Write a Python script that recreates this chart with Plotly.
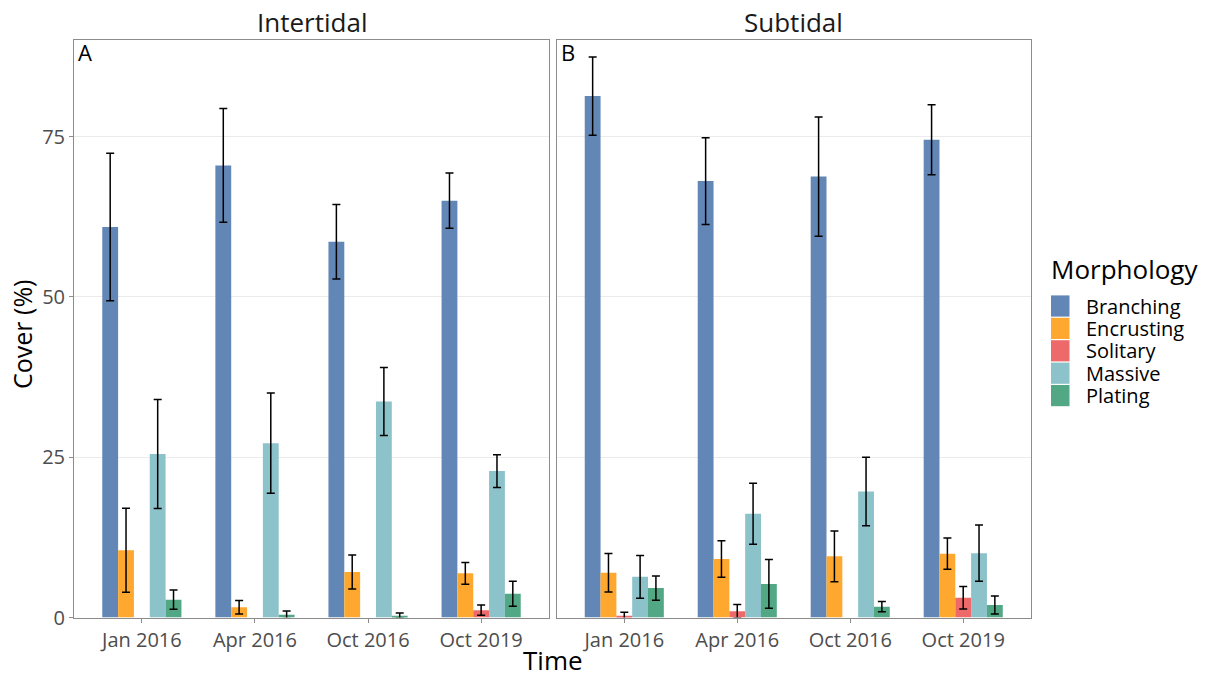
import plotly.graph_objects as go

# ---------------- data ----------------
CATEGORIES = ["Jan 2016", "Apr 2016", "Oct 2016", "Oct 2019"]
MORPHOLOGY = ["Branching", "Encrusting", "Solitary", "Massive", "Plating"]
COLORS = ["#6286B5", "#FFA830", "#EE6A6A", "#8CC2CA", "#52A884"]

# Intertidal (panel A): mean cover and standard error
INTER_BRANCHING = [60.9, 70.5, 58.6, 65.0]
INTER_BRANCHING_SE = [11.5, 8.85, 5.8, 4.3]
INTER_ENCRUSTING = [10.5, 1.6, 7.1, 6.9]
INTER_ENCRUSTING_SE = [6.55, 1.05, 2.65, 1.7]
INTER_SOLITARY = [None, None, None, 1.15]
INTER_SOLITARY_SE = [None, None, None, 0.8]
INTER_MASSIVE = [25.5, 27.2, 33.7, 22.85]
INTER_MASSIVE_SE = [8.5, 7.8, 5.3, 2.55]
INTER_PLATING = [2.8, 0.45, 0.3, 3.7]
INTER_PLATING_SE = [1.5, 0.58, 0.42, 1.95]

# Subtidal (panel B)
SUB_BRANCHING = [81.3, 68.05, 68.75, 74.5]
SUB_BRANCHING_SE = [6.1, 6.75, 9.3, 5.46]
SUB_ENCRUSTING = [7.0, 9.15, 9.55, 9.97]
SUB_ENCRUSTING_SE = [3.0, 2.85, 3.95, 2.45]
SUB_SOLITARY = [0.3, 1.0, None, 3.1]
SUB_SOLITARY_SE = [0.53, 1.05, None, 1.75]
SUB_MASSIVE = [6.35, 16.2, 19.65, 10.05]
SUB_MASSIVE_SE = [3.35, 4.75, 5.35, 4.4]
SUB_PLATING = [4.6, 5.25, 1.7, 1.95]
SUB_PLATING_SE = [1.9, 3.8, 0.8, 1.4]

Y_TICKS = [0, 25, 50, 75]

INTER = [
    (INTER_BRANCHING, INTER_BRANCHING_SE),
    (INTER_ENCRUSTING, INTER_ENCRUSTING_SE),
    (INTER_SOLITARY, INTER_SOLITARY_SE),
    (INTER_MASSIVE, INTER_MASSIVE_SE),
    (INTER_PLATING, INTER_PLATING_SE),
]
SUB = [
    (SUB_BRANCHING, SUB_BRANCHING_SE),
    (SUB_ENCRUSTING, SUB_ENCRUSTING_SE),
    (SUB_SOLITARY, SUB_SOLITARY_SE),
    (SUB_MASSIVE, SUB_MASSIVE_SE),
    (SUB_PLATING, SUB_PLATING_SE),
]

# ---------------- figure ----------------
W, H = 1210, 679
FONT = "Open Sans"
fig = go.Figure()

for panel, (xa, ya) in zip([INTER, SUB], [("x", "y"), ("x2", "y2")]):
    for name, color, (vals, se) in zip(MORPHOLOGY, COLORS, panel):
        fig.add_trace(go.Bar(
            x=CATEGORIES, y=vals, name=name, xaxis=xa, yaxis=ya,
            marker=dict(color=color, line=dict(width=0)),
            showlegend=False,
            error_y=dict(type="data", array=se, visible=True,
                         color="black", thickness=1.5, width=4),
        ))

def px_x(p):
    return p / W

def px_y(p):
    return (H - p) / H

LEFT_DOM = [px_x(74), px_x(549)]
RIGHT_DOM = [px_x(556.5), px_x(1031)]
Y_DOM = [px_y(617.6), px_y(40.3)]

axis_line = "#8c8c8c"
tick_font = dict(family=FONT, size=20, color="#4d4d4d")

common_x = dict(type="category", range=[-0.6, 3.6], showgrid=False,
                showline=True, mirror=True, linecolor=axis_line, linewidth=1,
                ticks="outside", ticklen=4, tickcolor=axis_line,
                tickfont=tick_font, zeroline=False, fixedrange=True)
common_y = dict(range=[0, 90.0], tickvals=Y_TICKS, showgrid=True,
                gridcolor="#ebebeb", gridwidth=1, zeroline=False,
                showline=True, mirror=True, linecolor=axis_line, linewidth=1,
                tickfont=tick_font, fixedrange=True)

fig.update_layout(
    width=W, height=H,
    margin=dict(l=0, r=0, t=0, b=0, autoexpand=False),
    paper_bgcolor="white", plot_bgcolor="white",
    barmode="group", bargap=0.3, bargroupgap=0,
    font=dict(family=FONT, color="black"),
    xaxis=dict(domain=LEFT_DOM, anchor="y", **common_x),
    xaxis2=dict(domain=RIGHT_DOM, anchor="y2", **common_x),
    yaxis=dict(domain=Y_DOM, anchor="x", ticks="outside", ticklen=4,
               tickcolor=axis_line, **common_y),
    yaxis2=dict(domain=Y_DOM, anchor="x2", ticks="", showticklabels=False,
                **common_y),
)

annotations = []
# strip titles
for text, dom in [("Intertidal", LEFT_DOM), ("Subtidal", RIGHT_DOM)]:
    annotations.append(dict(text=text, x=(dom[0] + dom[1]) / 2, y=px_y(22),
                            xref="paper", yref="paper", showarrow=False,
                            xanchor="center", yanchor="middle",
                            font=dict(family=FONT, size=26, color="#1a1a1a")))
# panel letters
for text, dom in [("A", LEFT_DOM), ("B", RIGHT_DOM)]:
    annotations.append(dict(text=text, x=dom[0] + 2 / W, y=px_y(52),
                            xref="paper", yref="paper", showarrow=False,
                            xanchor="left", yanchor="middle",
                            font=dict(family=FONT, size=22, color="black")))
# axis titles
annotations.append(dict(text="Time", x=(LEFT_DOM[0] + RIGHT_DOM[1]) / 2,
                        y=px_y(660), xref="paper", yref="paper",
                        showarrow=False, xanchor="center", yanchor="middle",
                        font=dict(family=FONT, size=26, color="black")))
annotations.append(dict(text="Cover (%)", x=px_x(22), y=px_y(335),
                        xref="paper", yref="paper", showarrow=False,
                        textangle=-90, xanchor="center", yanchor="middle",
                        font=dict(family=FONT, size=25, color="black")))

# legend (drawn manually to match the large square keys)
annotations.append(dict(text="Morphology", x=px_x(1049), y=px_y(269),
                        xref="paper", yref="paper", showarrow=False,
                        xanchor="left", yanchor="middle",
                        font=dict(family=FONT, size=26, color="black")))
shapes = []
KEY_TOP = 295
KEY_STEP = 22.4
for i, (name, color) in enumerate(zip(MORPHOLOGY, COLORS)):
    top = KEY_TOP + i * KEY_STEP
    shapes.append(dict(type="rect", xref="paper", yref="paper",
                       x0=px_x(1051), x1=px_x(1069.5),
                       y0=px_y(top + KEY_STEP - 0.8), y1=px_y(top + 0.4),
                       fillcolor=color, line=dict(width=0)))
    annotations.append(dict(text=name, x=px_x(1084), y=px_y(top + KEY_STEP / 2),
                            xref="paper", yref="paper", showarrow=False,
                            xanchor="left", yanchor="middle",
                            font=dict(family=FONT, size=20, color="black")))

fig.update_layout(annotations=annotations, shapes=shapes)

fig.write_html("out.html",
               config={"displayModeBar": False},
               post_script="document.body.style.margin='0';"
                           "document.body.style.overflow='hidden';")
